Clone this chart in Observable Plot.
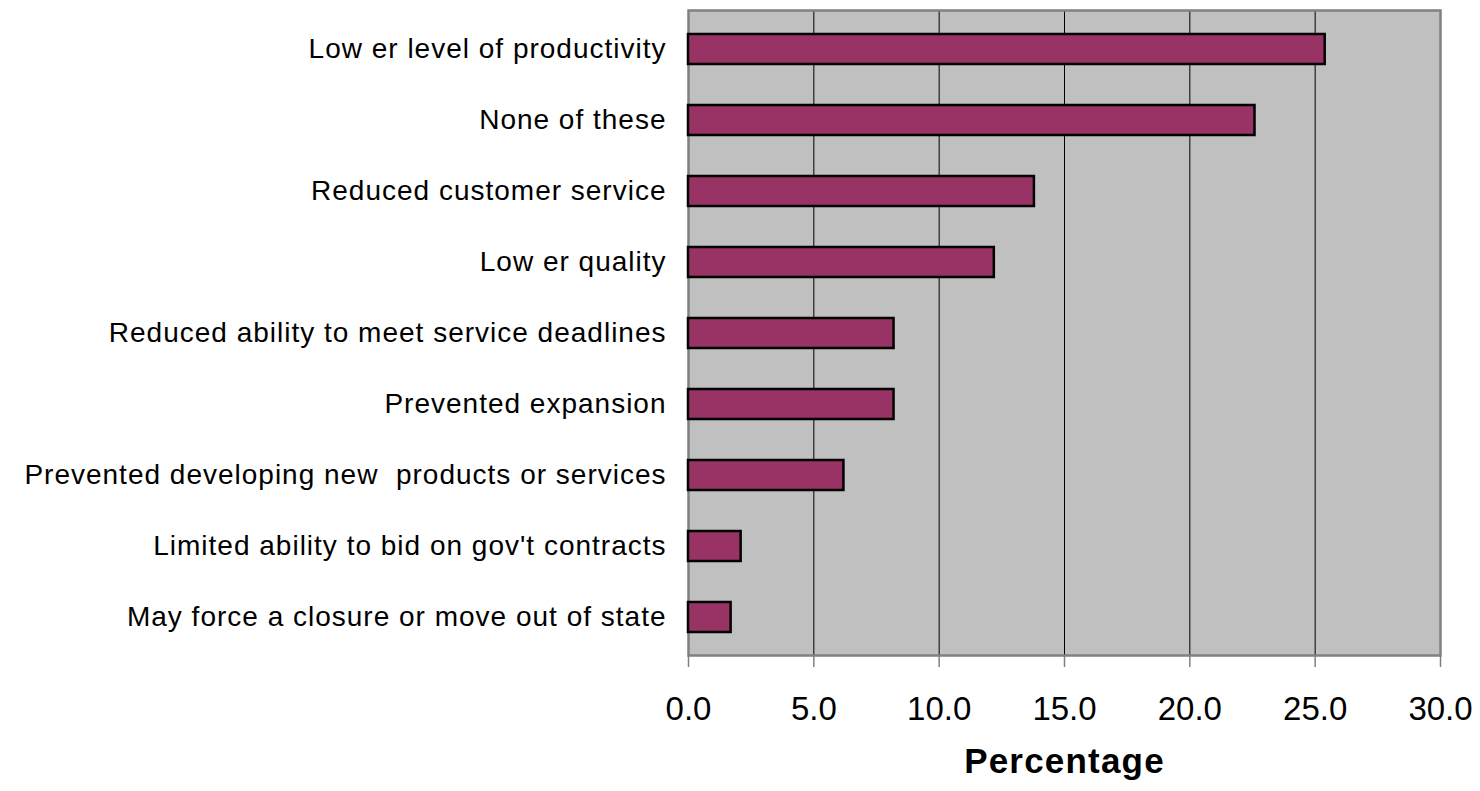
<!DOCTYPE html>
<html>
<head>
<meta charset="utf-8">
<script src="https://cdn.jsdelivr.net/npm/d3@7"></script>
<script src="https://cdn.jsdelivr.net/npm/@observablehq/plot@0.6"></script>
<style>
  html, body { margin: 0; padding: 0; background: #ffffff; }
  #chart { width: 1480px; height: 791px; overflow: hidden; }
</style>
</head>
<body>
<div id="chart"></div>
<script>
const categories = [
  "Low er level of productivity",
  "None of these",
  "Reduced customer service",
  "Low er quality",
  "Reduced ability to meet service deadlines",
  "Prevented expansion",
  "Prevented developing new  products or services",
  "Limited ability to bid on gov't contracts",
  "May force a closure or move out of state"
];
const values = [25.4, 22.6, 13.8, 12.2, 8.2, 8.2, 6.2, 2.1, 1.7];
const xTicks = [0, 5, 10, 15, 20, 25, 30];
const gridTicks = [5, 10, 15, 20, 25];
const xLabel = ["Percentage"];

const data = categories.map((c, i) => ({category: c, value: values[i]}));

const chart = Plot.plot({
  width: 1480,
  height: 791,
  marginLeft: 688,
  marginRight: 40,
  marginTop: 10,
  marginBottom: 136,
  style: {fontFamily: "'Liberation Sans', Arial, sans-serif", background: "#ffffff", color: "#000"},
  x: {domain: [0, 30]},
  y: {domain: categories, paddingInner: 0.58, paddingOuter: 0.29},
  marks: [
    Plot.frame({fill: "#c0c0c0", stroke: "none"}),
    Plot.ruleX(gridTicks, {stroke: "#000", strokeWidth: 1}),
    Plot.frame({stroke: "#808080", strokeWidth: 2.5}),
    Plot.barX(data, {x: "value", y: "category", fill: "#993366", stroke: "#000", strokeWidth: 2.5}),
    Plot.axisX({ticks: xTicks, tickFormat: d3.format(".1f"), tickSize: 12, tickPadding: 29,
      fontSize: 33, stroke: "#808080", strokeWidth: 1.5, label: null}),
    Plot.axisY({tickSize: 0, tickPadding: 22, fontSize: 28, label: null}),
    Plot.text(xLabel, {frameAnchor: "bottom", dy: 117, fontSize: 35, fontWeight: "bold", fill: "#000"})
  ]
});
document.getElementById("chart").appendChild(chart);

// letter spacing to match the reference's looser text
d3.select(chart).selectAll("g[aria-label='y-axis tick label'] text").style("letter-spacing", "1px");
d3.select(chart).selectAll("text").filter(function () { return this.textContent === "Percentage"; })
  .style("letter-spacing", "1.2px");
</script>
</body>
</html>
